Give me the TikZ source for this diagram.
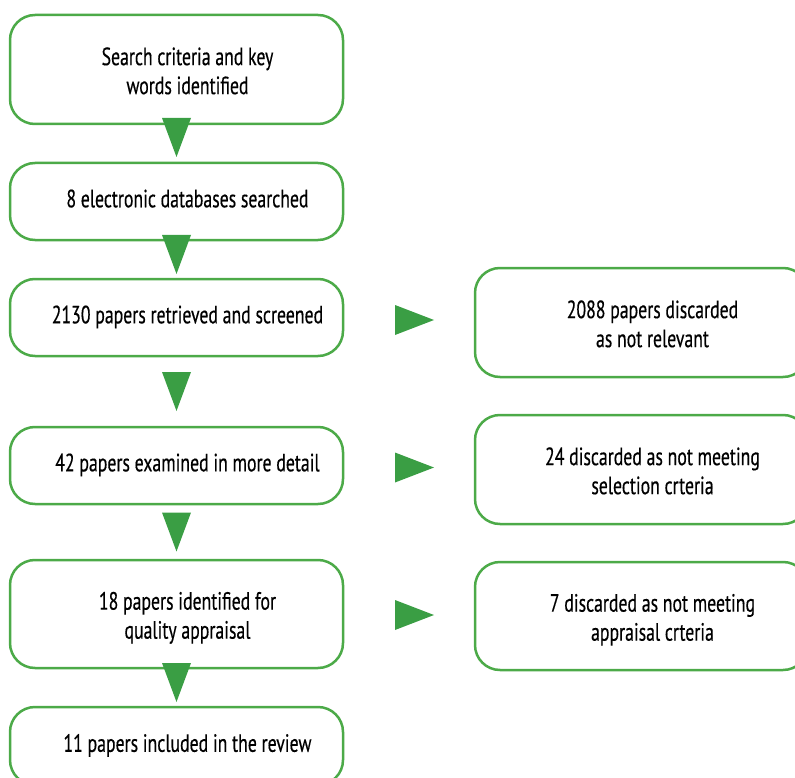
\documentclass[tikz,border=0pt]{standalone}
\usepackage{fontspec}
\setmainfont[FakeStretch=0.71,FakeBold=0.4]{PT Sans}
\usetikzlibrary{positioning,calc}
\definecolor{boxgreen}{RGB}{76,170,72}
\definecolor{arrowgreen}{RGB}{58,158,68}
\newcommand{\stagetext}[2][0pt]{\hspace*{22pt}\begin{tabular}{@{}c@{}}\rule{0pt}{#1}#2\end{tabular}}

\begin{document}
\begin{tikzpicture}[x=1pt,y=1pt,
	main node/.style={rectangle,rounded corners=25pt,draw=boxgreen,line width=2.5pt,
		minimum width=333pt,inner sep=0pt,outer sep=0pt,font=\fontsize{25}{29}\selectfont},
	tri/.style={fill=arrowgreen}]

    \clip (0,0) rectangle (795,-778);

    \node[main node, minimum height=109pt] (S) at (176.5,-69.5) {\stagetext[29pt]{Search criteria and key\\words identified}};
    \node[main node, minimum height=77pt] (D) [below = 39pt of S] {\stagetext{8 electronic databases searched}};
    \node[main node, minimum height=77pt] (R) [below = 39pt of D] {\stagetext{2130 papers retrieved and screened}};
    \node[main node, minimum height=77pt] (E) [below = 71pt of R] {\stagetext{42 papers examined in more detail}};
    \node[main node, minimum height=108pt] (Q) [below = 56pt of E] {\stagetext[29pt]{18 papers identified for\\quality appraisal}};
    \node[main node, minimum height=78pt] (I) [below = 39pt of Q] {\stagetext{11 papers included in the review}};

    \node[main node, minimum height=109pt] (R1) [right = 132pt of R, yshift=-5pt] {\stagetext[29pt]{2088 papers discarded\\as not relevant}};
    \node[main node, minimum height=109pt] (R2) [right = 132pt of E, yshift=-4pt] {\stagetext[29pt]{24 discarded as not meeting\\selection crteria}};
    \node[main node, minimum height=108pt] (R3) [right = 132pt of Q, yshift=-2pt] {\stagetext[29pt]{7 discarded as not meeting\\appraisal crteria}};

    \foreach \a/\b/\dy in {S/D/6,D/R/5,R/E/0,E/Q/0,Q/I/5}
	\fill[tri] ($(\a.south)!.5!(\b.north)$) ++(-14.5,19.5+\dy) -- ++(29,0) -- ++(-14.5,-39) -- cycle;
    \foreach \a/\b in {R/R1,E/R2,Q/R3}
	\fill[tri] ($(\a.east)!.5!(\b.west)$) ++(-14,15) -- ++(0,-30) -- ++(39,15) -- cycle;

\end{tikzpicture}
\end{document}
